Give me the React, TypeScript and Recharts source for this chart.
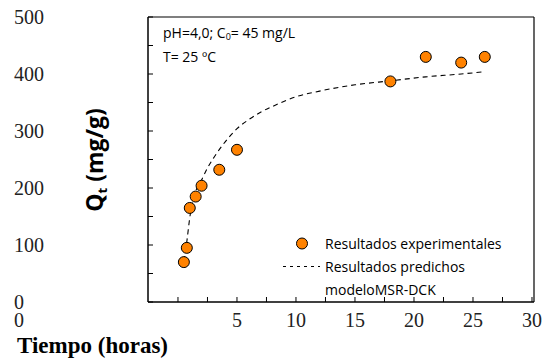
import React from "react";
import { ComposedChart, Scatter, Line, XAxis, YAxis, Legend } from "recharts";

// experimental points
const TIME_EXP = [0.5, 0.75, 1, 1.5, 2, 3.5, 5, 18, 21, 24, 26];
const QT_EXP = [70, 95, 165, 185, 204, 232, 267, 387, 430, 420, 430];

// predicted curve (MSR-DCK model)
const TIME_MODEL = [0.5, 0.75, 1, 1.5, 2, 2.5, 3, 4, 5, 6, 7, 8, 10, 12, 15, 18, 21, 24, 26];
const QT_MODEL = [72, 106, 148, 194, 214, 235, 252, 281, 304, 320, 333, 343, 360, 370, 381, 388, 395, 400, 404];

const X_TICKS = [0, 2.5, 5, 7.5, 10, 12.5, 15, 17.5, 20, 22.5, 25, 27.5, 30];
const Y_TICKS = [0, 50, 100, 150, 200, 250, 300, 350, 400, 450, 500];

const SERIES_EXP = "Resultados experimentales";
const SERIES_MODEL = ["Resultados predichos", "modeloMSR-DCK"];

const expData = TIME_EXP.map((x, i) => ({ x, y: QT_EXP[i] }));
const modelData = TIME_MODEL.map((x, i) => ({ x, y: QT_MODEL[i] }));

const ORANGE = "#ff8200";
const SANS = '"Open Sans", "Noto Sans", sans-serif';
const SERIF = '"Liberation Serif", "Times New Roman", serif';
const TICK_LABEL_X = 14;
const X_LABEL_Y = 320;
const tickFont = { fontFamily: SERIF, fontSize: 20 };

function XTick(props: any) {
  const { x, payload } = props;
  const v = payload.value;
  if (v % 5 !== 0) return <g />;
  const first = v === 0;
  return (
    <text
      x={first ? TICK_LABEL_X : x}
      y={X_LABEL_Y}
      dy="0.35em"
      textAnchor={first ? "start" : "middle"}
      style={tickFont}
      fill="#222"
    >
      {v}
    </text>
  );
}

function YTick(props: any) {
  const { y, payload } = props;
  if (payload.value % 100 !== 0) return <g />;
  return (
    <text x={TICK_LABEL_X} y={y} dy="0.35em" textAnchor="start" style={tickFont} fill="#222">
      {payload.value}
    </text>
  );
}

const yTitle = () => (
  <text
    transform="translate(103,160) rotate(-90)"
    textAnchor="middle"
    style={{ fontFamily: SANS, fontWeight: "bold", fontSize: 23 }}
    fill="#000"
  >
    Q<tspan style={{ fontSize: 13 }} dy={4}>t</tspan>
    <tspan dy={-4}> (mg/g)</tspan>
  </text>
);

const xTitle = () => (
  <text x={17} y={353} style={{ fontFamily: SERIF, fontWeight: "bold", fontSize: 23 }} fill="#000">
    Tiempo (horas)
  </text>
);

const renderLegend = () => (
  <div style={{ fontFamily: SANS, fontSize: 14, color: "#000", lineHeight: "23px" }}>
    <div style={{ display: "flex", alignItems: "center", height: 23 }}>
      <svg width={45} height={23}>
        <circle cx={22} cy={11.5} r={5.5} fill={ORANGE} stroke="#000" strokeWidth={1} />
      </svg>
      <span>{SERIES_EXP}</span>
    </div>
    <div style={{ display: "flex", alignItems: "center", height: 23 }}>
      <svg width={45} height={23}>
        <line x1={3} x2={40} y1={11.5} y2={11.5} stroke="#000" strokeWidth={1} strokeDasharray="3 4" />
      </svg>
      <span>{SERIES_MODEL[0]}</span>
    </div>
    <div style={{ paddingLeft: 45, height: 23 }}>{SERIES_MODEL[1]}</div>
  </div>
);

export default function App() {
  return (
    <div style={{ position: "absolute", left: 0, top: 0, width: 548, height: 358, background: "#fff" }}>
      <ComposedChart width={548} height={358} margin={{ top: 17, right: 14, bottom: 56, left: 148 }}>
        <XAxis
          dataKey="x"
          type="number"
          domain={[-2.54, 30.17]}
          ticks={X_TICKS}
          interval={0}
          allowDataOverflow
          mirror
          tickSize={5}
          tickLine={{ stroke: "#000" }}
          axisLine={{ stroke: "#000", strokeWidth: 1.5 }}
          tick={<XTick />}
          label={{ content: xTitle }}
        />
        <XAxis
          xAxisId="top"
          orientation="top"
          type="number"
          domain={[-2.54, 30.17]}
          mirror
          tick={false}
          tickLine={false}
          axisLine={{ stroke: "#000", strokeWidth: 1.2 }}
        />
        <YAxis
          type="number"
          domain={[0, 500]}
          ticks={Y_TICKS}
          interval={0}
          allowDataOverflow
          mirror
          tickSize={5}
          tickLine={{ stroke: "#000" }}
          axisLine={{ stroke: "#000", strokeWidth: 1.5 }}
          tick={<YTick />}
          label={{ content: yTitle }}
        />
        <YAxis
          yAxisId="right"
          orientation="right"
          type="number"
          domain={[0, 500]}
          ticks={Y_TICKS}
          interval={0}
          mirror
          tickSize={5}
          tick={false}
          tickLine={{ stroke: "#000" }}
          axisLine={{ stroke: "#000", strokeWidth: 1.2 }}
        />
        <Scatter
          name={SERIES_EXP}
          data={expData}
          dataKey="y"
          fill={ORANGE}
          stroke="#000"
          strokeWidth={1}
          shape={(p: any) => <circle cx={p.cx} cy={p.cy} r={5.5} fill={ORANGE} stroke="#000" strokeWidth={1} />}
          isAnimationActive={false}
        />
        <Line
          name={SERIES_MODEL.join(" ")}
          data={modelData}
          dataKey="y"
          type="monotone"
          stroke="#000"
          strokeWidth={1.1}
          strokeDasharray="5 4"
          dot={false}
          activeDot={false}
          isAnimationActive={false}
        />
        <Legend
          layout="vertical"
          align="center"
          verticalAlign="middle"
          content={renderLegend}
          wrapperStyle={{ left: 280, top: 232, width: 260 }}
        />
      </ComposedChart>
      <div
        style={{
          position: "absolute",
          left: 163,
          top: 21,
          fontFamily: SANS,
          fontSize: 14,
          lineHeight: "24px",
          color: "#000",
        }}
      >
        <div>
          pH=4,0; C<sub style={{ fontSize: 9, verticalAlign: "-2px", lineHeight: 0 }}>0</sub>= 45 mg/L
        </div>
        <div>T= 25 ºC</div>
      </div>
    </div>
  );
}
